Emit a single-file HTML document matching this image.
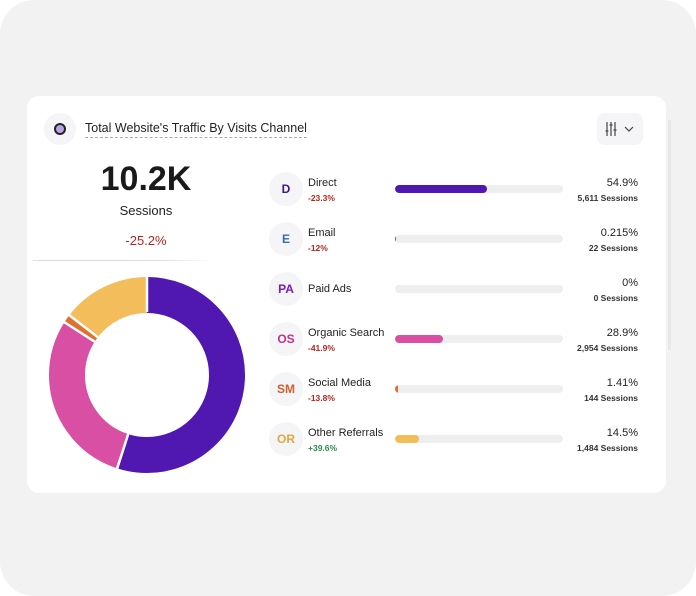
<!DOCTYPE html>
<html><head><meta charset="utf-8"><style>
*{margin:0;padding:0;box-sizing:border-box}
body{width:696px;height:596px;background:#fff;font-family:"Liberation Sans",sans-serif;position:relative;overflow:hidden;color:#1a1a1a}
.bg{position:absolute;left:0;top:0;width:696px;height:596px;background:#f2f2f2;border-radius:34px}
.card{position:absolute;left:27px;top:96px;width:639px;height:397px;background:#fff;border-radius:12px}
.abs{position:absolute}
.ic{position:absolute;width:34px;height:34px;border-radius:50%;background:#f5f5f7;text-align:center;line-height:34px;font-size:12px;font-weight:bold}
.lbl{position:absolute;font-size:11px;color:#222}
.chg{position:absolute;font-size:8.5px;font-weight:bold}
.bar{position:absolute;left:395px;width:168px;height:8px;border-radius:4px;background:#eeeeee;overflow:hidden}
.bar i{display:block;height:8px;border-radius:4px}
.pct{position:absolute;right:58px;font-size:11px;text-align:right;color:#222}
.ses{position:absolute;right:58px;font-size:8.5px;font-weight:bold;text-align:right;color:#333}
</style></head><body>
<div class="bg"></div>
<div class="abs" style="left:668px;top:120px;width:3px;height:230px;background:#e8e8e8"></div>
<div class="card"></div>
<div class="abs" style="left:44px;top:113px;width:32px;height:32px;border-radius:50%;background:#f5f5f7"></div>
<div class="abs" style="left:54px;top:123px;width:12px;height:12px;border-radius:50%;border:2px solid #222;background:#b7a3e8"></div>
<div class="abs" style="left:85px;top:121px;font-size:12.5px;color:#222;border-bottom:1px dashed #aaa;padding-bottom:2px">Total Website's Traffic By Visits Channel</div>
<div class="abs" style="left:597px;top:113px;width:46px;height:32px;border-radius:8px;background:#f5f5f7"></div>
<svg class="abs" style="left:597px;top:113px" width="46" height="32">
<g stroke="#444" stroke-width="1.2" fill="none">
<line x1="10" y1="9" x2="10" y2="23"/><line x1="14" y1="9" x2="14" y2="23"/><line x1="18" y1="9" x2="18" y2="23"/>
<line x1="8.5" y1="18" x2="11.5" y2="18"/><line x1="12.5" y1="12" x2="15.5" y2="12"/><line x1="16.5" y1="17" x2="19.5" y2="17"/>
<polyline points="28,14 32,18 36,14"/>
</g></svg>
<div class="abs" style="left:70px;top:160px;width:152px;text-align:center;font-size:34px;font-weight:bold;color:#1a1a1a">10.2K</div>
<div class="abs" style="left:70px;top:203px;width:152px;text-align:center;font-size:13px;color:#222">Sessions</div>
<div class="abs" style="left:70px;top:233px;width:152px;text-align:center;font-size:13px;color:#b3261e">-25.2%</div>
<div class="abs" style="left:33px;top:260px;width:180px;height:1px;background:linear-gradient(90deg,#ddd,#ddd 70%,#fff)"></div>
<svg class="abs" style="left:0;top:0" width="696" height="596">
<g transform="rotate(-90 147 375)" fill="none" stroke-width="36">
<circle cx="147" cy="375" r="80" stroke="#5018b0" stroke-dasharray="275.96 600"/>
<circle cx="147" cy="375" r="80" stroke="#d94fa3" stroke-dasharray="0 277.04 145.27 600"/>
<circle cx="147" cy="375" r="80" stroke="#e07030" stroke-dasharray="0 422.31 7.09 600"/>
<circle cx="147" cy="375" r="80" stroke="#f4bd5c" stroke-dasharray="0 429.4 73.3 600"/>
</g>
<g stroke="#fff" stroke-width="2.5">
<line x1="147" y1="312" x2="147" y2="276"/>
<line x1="128.2" y1="434.1" x2="117" y2="469"/>
<line x1="94.7" y1="341.7" x2="64" y2="322"/>
<line x1="97.8" y1="337.2" x2="69" y2="315"/>
</g>
</svg>

<div class="ic" style="left:269px;top:172px;color:#3b1590">D</div>
<div class="lbl" style="left:308px;top:177px">Direct</div>
<div class="chg" style="left:308px;top:193px;color:#b3261e">-23.3%</div>
<div class="bar" style="top:185px"><i style="width:92px;background:#5018b0"></i></div>
<div class="pct" style="top:177px">54.9%</div>
<div class="ses" style="top:193px">5,611 Sessions</div>

<div class="ic" style="left:269px;top:222px;color:#3a6ab0">E</div>
<div class="lbl" style="left:308px;top:227px">Email</div>
<div class="chg" style="left:308px;top:243px;color:#b3261e">-12%</div>
<div class="bar" style="top:235px"><i style="width:1px;background:#3a6ab0"></i></div>
<div class="pct" style="top:227px">0.215%</div>
<div class="ses" style="top:243px">22 Sessions</div>

<div class="ic" style="left:269px;top:272px;color:#7a1ab8">PA</div>
<div class="lbl" style="left:308px;top:283px">Paid Ads</div>
<div class="bar" style="top:285px"></div>
<div class="pct" style="top:277px">0%</div>
<div class="ses" style="top:293px">0 Sessions</div>

<div class="ic" style="left:269px;top:322px;color:#c0338a">OS</div>
<div class="lbl" style="left:308px;top:327px">Organic Search</div>
<div class="chg" style="left:308px;top:343px;color:#b3261e">-41.9%</div>
<div class="bar" style="top:335px"><i style="width:48px;background:#d94fa3"></i></div>
<div class="pct" style="top:327px">28.9%</div>
<div class="ses" style="top:343px">2,954 Sessions</div>

<div class="ic" style="left:269px;top:372px;color:#d0602a">SM</div>
<div class="lbl" style="left:308px;top:377px">Social Media</div>
<div class="chg" style="left:308px;top:393px;color:#b3261e">-13.8%</div>
<div class="bar" style="top:385px"><i style="width:3px;background:#e07030"></i></div>
<div class="pct" style="top:377px">1.41%</div>
<div class="ses" style="top:393px">144 Sessions</div>

<div class="ic" style="left:269px;top:422px;color:#e0a840">OR</div>
<div class="lbl" style="left:308px;top:427px">Other Referrals</div>
<div class="chg" style="left:308px;top:443px;color:#2e8b4e">+39.6%</div>
<div class="bar" style="top:435px"><i style="width:24px;background:#f4bd5c"></i></div>
<div class="pct" style="top:427px">14.5%</div>
<div class="ses" style="top:443px">1,484 Sessions</div>
</body></html>
